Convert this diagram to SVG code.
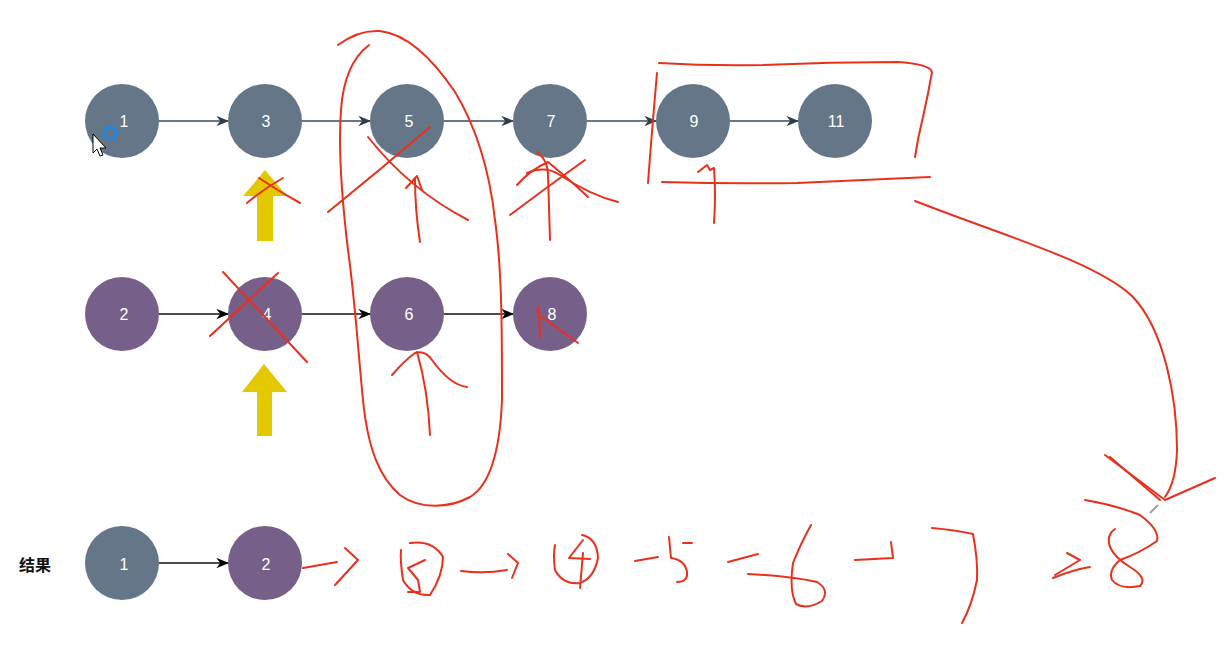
<svg xmlns="http://www.w3.org/2000/svg" width="1222" height="651" viewBox="0 0 1222 651">
<defs>
<style>
.slate{fill:#647687;}
.purple{fill:#76608a;}
.lbl{font-family:"Liberation Sans",Arial,sans-serif;font-size:16px;fill:#ffffff;text-anchor:middle;dominant-baseline:central;}
.e1{stroke:#3a4a5a;stroke-width:1.6;fill:none;marker-end:url(#ah1);}
.e2{stroke:#111111;stroke-width:1.6;fill:none;marker-end:url(#ah2);}
.ink{stroke:#e8301c;stroke-width:2;fill:none;stroke-linecap:round;stroke-linejoin:round;}
.yel{fill:#e3c800;}
</style>
<marker id="ah1" viewBox="0 0 10 8" refX="9" refY="4" markerWidth="13" markerHeight="11" markerUnits="userSpaceOnUse" orient="auto">
<path d="M0,0 L10,4 L0,8 L3,4 Z" fill="#2f3e4d"/>
</marker>
<marker id="ah2" viewBox="0 0 10 8" refX="9" refY="4" markerWidth="13" markerHeight="11" markerUnits="userSpaceOnUse" orient="auto">
<path d="M0,0 L10,4 L0,8 L3,4 Z" fill="#000000"/>
</marker>
</defs>
<rect width="1222" height="651" fill="#ffffff"/>

<g id="connectors">
<path class="e1" d="M159,121 H228"/>
<path class="e1" d="M302,121 H370"/>
<path class="e1" d="M444,121 H513"/>
<path class="e1" d="M587,121 H656"/>
<path class="e1" d="M730,121 H798"/>
<path class="e2" d="M159,314 H228"/>
<path class="e2" d="M302,314 H370"/>
<path class="e2" d="M444,314 H513"/>
<path class="e2" d="M159,563 H228"/>
</g>

<g id="n1"><circle class="slate" cx="122" cy="121" r="37"/><text class="lbl" x="124" y="121">1</text></g>
<g id="n3"><circle class="slate" cx="265" cy="121" r="37"/><text class="lbl" x="266" y="121">3</text></g>
<g id="n5"><circle class="slate" cx="407" cy="121" r="37"/><text class="lbl" x="409" y="121">5</text></g>
<g id="n7"><circle class="slate" cx="550" cy="121" r="37"/><text class="lbl" x="551" y="121">7</text></g>
<g id="n9"><circle class="slate" cx="693" cy="121" r="37"/><text class="lbl" x="694" y="121">9</text></g>
<g id="n11"><circle class="slate" cx="835" cy="121" r="37"/><text class="lbl" x="836" y="121">11</text></g>

<g id="n2"><circle class="purple" cx="122" cy="314" r="37"/><text class="lbl" x="124" y="314">2</text></g>
<g id="n4"><circle class="purple" cx="265" cy="314" r="37"/><text class="lbl" x="267" y="314">4</text></g>
<g id="n6"><circle class="purple" cx="407" cy="314" r="37"/><text class="lbl" x="409" y="314">6</text></g>
<g id="n8"><circle class="purple" cx="550" cy="314" r="37"/><text class="lbl" x="552" y="314">8</text></g>

<g id="result-label"><text x="35" y="565" font-family="'Liberation Sans','Noto Sans CJK SC',sans-serif" font-size="16" font-weight="bold" fill="#111111" text-anchor="middle" dominant-baseline="central">结果</text></g>
<g id="r1"><circle class="slate" cx="122" cy="563" r="37"/><text class="lbl" x="124" y="564">1</text></g>
<g id="r2"><circle class="purple" cx="265" cy="563" r="37"/><text class="lbl" x="266" y="564">2</text></g>

<g id="pointers">
<path class="yel" d="M265,170 L287,196 L273,196 L273,241 L257,241 L257,196 L243,196 Z"/>
<path class="yel" d="M264,364 L287,392 L272,392 L272,436 L257,436 L257,392 L242,392 Z"/>
</g>

<g id="cursor">
<circle cx="110" cy="133" r="6" fill="none" stroke="#1e88e5" stroke-width="3"/>
<path d="M93,134 L93,153 L97,149 L100,156 L103,155 L100,148 L106,148 Z" fill="#ffffff" stroke="#000000" stroke-width="1"/>
</g>

<g id="annotations">
<path class="ink" d="M247,203 Q265,188 283,178"/>
<path class="ink" d="M259,178 Q280,192 300,203"/>
<path class="ink" d="M223,272 L307,362"/>
<path class="ink" d="M278,273 L210,336"/>
<path class="ink" d="M338,45 C350,36 365,30 380,31 C405,34 430,55 455,92 C478,130 490,175 495,220 C502,270 502,330 502,400 C500,450 490,485 470,497 C450,508 420,510 400,495 C380,478 368,450 363,400 C358,350 355,300 348,250 C342,200 338,150 341,110 C343,80 352,58 369,45"/>
<path class="ink" d="M430,127 Q380,170 328,212"/>
<path class="ink" d="M368,137 Q410,190 468,220"/>
<path class="ink" d="M420,242 Q415,210 415,178"/>
<path class="ink" d="M406,188 L417,176 L422,190"/>
<path class="ink" d="M537,152 Q548,160 548,175 Q549,210 550,240"/>
<path class="ink" d="M517,185 Q530,170 548,162 Q570,180 588,197"/>
<path class="ink" d="M527,173 Q545,165 560,175 Q590,195 618,202"/>
<path class="ink" d="M510,215 Q550,185 585,160"/>
<path class="ink" d="M657,73 Q652,130 648,183"/>
<path class="ink" d="M659,63 Q710,66 763,65 Q830,62 897,62 Q930,64 932,72 Q928,95 923,117 Q918,137 915,157"/>
<path class="ink" d="M662,182 Q730,184 797,183 Q860,180 930,177"/>
<path class="ink" d="M698,172 L707,165 L710,170 L714,168 Q716,195 714,223"/>
<path class="ink" d="M430,435 Q428,390 417,352"/>
<path class="ink" d="M392,375 Q405,360 415,353 Q425,350 432,360 Q450,385 467,387"/>
<path class="ink" d="M538,307 Q540,322 540,337"/>
<path class="ink" d="M537,310 Q540,318 542,317 Q560,330 578,343"/>
<path class="ink" d="M915,201 C1010,238 1095,262 1132,296 C1165,330 1177,400 1177,450 Q1176,482 1165,497"/>
<path class="ink" d="M1105,455 L1165,500 L1215,478"/>
<path class="ink" d="M1110,457 L1160,500"/>
<path d="M1150,513 L1158,505" stroke="#9aa0a6" stroke-width="2"/>
<path class="ink" d="M303,568 Q320,565 337,562"/>
<path class="ink" d="M345,548 L358,560 L335,585"/>
<path class="ink" d="M410,543 Q433,540 443,557 Q443,575 430,595 Q412,596 403,580 Q400,560 401,550"/>
<path class="ink" d="M425,560 L408,568 L418,580 L420,592 L408,592"/>
<path class="ink" d="M461,571 Q485,574 507,570"/>
<path class="ink" d="M508,554 L518,563 L512,578"/>
<path class="ink" d="M582,535 Q597,538 598,558 Q594,578 580,583 Q563,585 555,570 Q553,555 555,545"/>
<path class="ink" d="M583,540 L569,558 L590,559"/>
<path class="ink" d="M583,553 L580,588"/>
<path class="ink" d="M635,561 L658,557"/>
<path class="ink" d="M683,543 L692,543"/>
<path class="ink" d="M669,537 L671,558 Q685,560 687,572 Q688,582 677,582"/>
<path class="ink" d="M728,562 L758,554"/>
<path class="ink" d="M811,525 Q800,545 793,563 Q789,590 796,604 Q807,610 822,601 Q830,590 817,582 Q790,576 748,574"/>
<path class="ink" d="M855,560 L893,558 L891,542"/>
<path class="ink" d="M932,528 Q955,530 973,534 Q978,560 977,580 Q972,605 962,623"/>
<path class="ink" d="M1053,578 Q1072,570 1090,567"/>
<path class="ink" d="M1067,553 L1080,560 L1055,575"/>
<path class="ink" d="M1085,500 Q1115,505 1140,515 Q1160,530 1157,541 Q1140,553 1120,560 Q1108,570 1112,580 Q1120,590 1140,586 Q1148,578 1130,567 Q1115,558 1110,547 Q1106,535 1115,529"/>
</g>
</svg>
